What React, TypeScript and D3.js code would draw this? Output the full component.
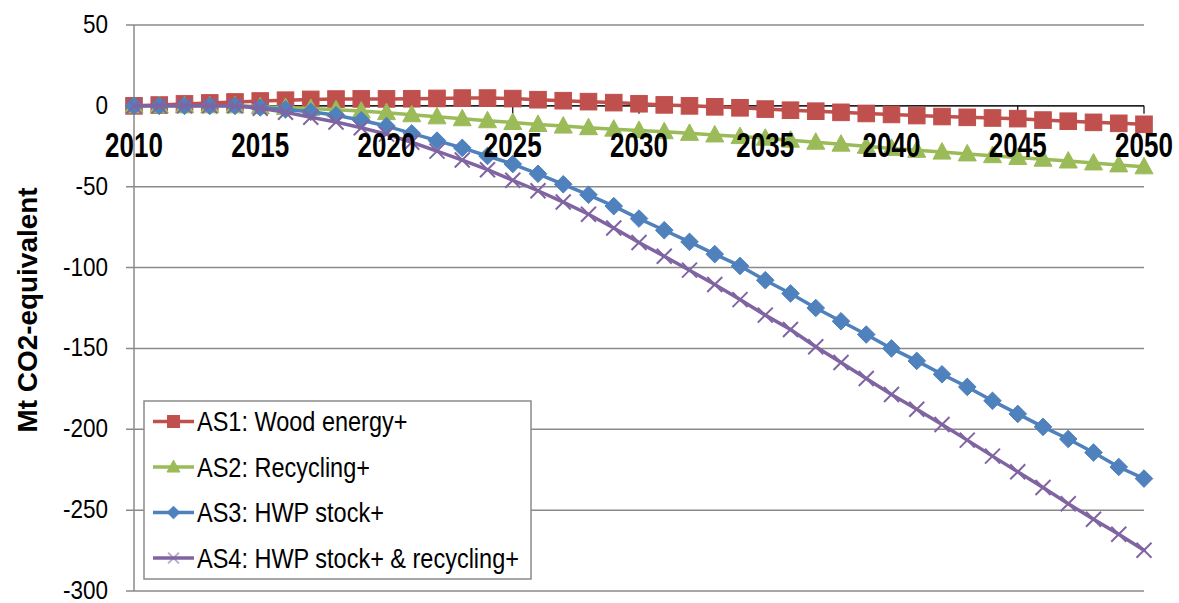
import React from "react";
import * as d3 from "d3";

const years = [
  2010, 2011, 2012, 2013, 2014, 2015, 2016, 2017, 2018, 2019,
  2020, 2021, 2022, 2023, 2024, 2025, 2026, 2027, 2028, 2029,
  2030, 2031, 2032, 2033, 2034, 2035, 2036, 2037, 2038, 2039,
  2040, 2041, 2042, 2043, 2044, 2045, 2046, 2047, 2048, 2049,
  2050,
];

const as1 = [
  0, 0.5, 1.2, 1.8, 2.4, 3.0, 3.5, 4.0, 4.2, 4.3,
  4.3, 4.4, 4.6, 4.8, 4.8, 4.5, 3.8, 3.2, 2.6, 2.0,
  1.3, 0.6, 0.0, -0.6, -1.2, -2.0, -2.7, -3.3, -4.0, -4.7,
  -5.3, -6.0, -6.6, -7.1, -7.5, -7.9, -8.8, -9.5, -10.2, -10.8,
  -11.4,
];

const as2 = [
  0, 0, 0, 0, 0, -0.5, -1.0, -1.6, -2.4, -3.2,
  -4.2, -5.5, -6.8, -8.0, -9.2, -10.3, -11.5, -12.5, -13.5, -14.4,
  -15.2, -16.0, -17.0, -18.0, -19.0, -20.0, -21.2, -22.5, -23.7, -25.0,
  -26.3, -27.5, -28.6, -29.7, -30.8, -31.9, -33.0, -34.1, -35.3, -36.5,
  -37.7,
];

const as3 = [
  0, 0, 0, 0, 0, -1.0, -2.2, -3.7, -5.8, -8.9,
  -12.5, -17, -21.5, -26, -31, -36, -42, -48.5, -55, -62,
  -69.7, -76.9, -84.1, -91.7, -99, -107.8, -116, -125, -133.2, -141.4,
  -150, -157.7, -166, -173.8, -182.4, -190.5, -198.5, -206, -214.4, -223.3,
  -230.5,
];

const as4 = [
  0, 0, 0, 0, 0, -1.5, -4, -7, -10, -13.5,
  -17.5, -22.5, -28, -33.5, -39.5, -46, -52.5, -59.5, -67, -75.5,
  -84.5, -93, -101.6, -110.5, -119.8, -129.4, -138.3, -149, -158.7, -168.6,
  -178.5, -187.6, -197, -206.7, -216.6, -226.3, -236, -246, -255.6, -264.9,
  -274.8,
];

const seriesNames = [
  "AS1: Wood energy+",
  "AS2: Recycling+",
  "AS3: HWP stock+",
  "AS4: HWP stock+ & recycling+",
];
const seriesColors = ["#C0504D", "#9BBB59", "#4F81BD", "#8064A2"];
const seriesMarkers = ["square", "triangle", "diamond", "x"];
const seriesValues = [as1, as2, as3, as4];

const xTickYears = [2010, 2015, 2020, 2025, 2030, 2035, 2040, 2045, 2050];
const yTicks = [50, 0, -50, -100, -150, -200, -250, -300];

const FONT = "'Liberation Sans', Arial, Helvetica, sans-serif";

function Marker({ type, x, y, color, s = 1 }: { type: string; x: number; y: number; color: string; s?: number }) {
  if (type === "square") {
    const h = 8.3 * s;
    return <rect x={x - h} y={y - h} width={2 * h} height={2 * h} fill={color} stroke={color} strokeWidth={1} />;
  }
  if (type === "triangle") {
    const w = 9 * s;
    const p = `${x},${y - 9.5 * s} ${x + w},${y + 7 * s} ${x - w},${y + 7 * s}`;
    return <polygon points={p} fill={color} stroke={color} strokeWidth={1} />;
  }
  if (type === "diamond") {
    const h = 8.8 * s;
    const p = `${x},${y - h} ${x + h},${y} ${x},${y + h} ${x - h},${y}`;
    return <polygon points={p} fill={color} stroke={color} strokeWidth={1} />;
  }
  const h = 7.5 * s;
  return (
    <g stroke={color} strokeWidth={2} opacity={s < 1 ? 0.55 : 1}>
      <line x1={x - h} y1={y - h} x2={x + h} y2={y + h} />
      <line x1={x - h} y1={y + h} x2={x + h} y2={y - h} />
    </g>
  );
}

export default function App() {
  const W = 1179;
  const H = 603;
  const x = d3.scaleLinear().domain([2010, 2050]).range([134, 1144]);
  const y = d3.scaleLinear().domain([-300, 50]).range([591, 25]);
  const line = d3
    .line<number>()
    .x((_, i) => x(years[i]))
    .y((d) => y(d));

  const y0 = y(0);

  return (
    <svg
      width={W}
      height={H}
      style={{ position: "absolute", left: 0, top: 0, background: "#fff" }}
      fontFamily={FONT}
    >
      <rect x={0} y={0} width={W} height={H} fill="#fff" />
      {/* gridlines */}
      {yTicks.map((t) => (
        <line
          key={"g" + t}
          x1={126}
          x2={x(2050)}
          y1={y(t)}
          y2={y(t)}
          stroke="#8a8a8a"
          strokeWidth={1.5}
        />
      ))}
      {/* vertical axis */}
      <line x1={x(2010)} x2={x(2010)} y1={y(50)} y2={y(-300)} stroke="#8a8a8a" strokeWidth={1.5} />
      {/* category axis at zero */}
      <line x1={x(2010)} x2={x(2050)} y1={y0} y2={y0} stroke="#000" strokeWidth={1.3} />
      {xTickYears.slice(1).map((yr) => (
        <line key={"t" + yr} x1={x(yr)} x2={x(yr)} y1={y0} y2={y0 + 8} stroke="#000" strokeWidth={1.2} />
      ))}

      {/* y tick labels */}
      {yTicks.map((t) => (
        <g key={"yl" + t} transform={`translate(108,${y(t) + 8}) scale(1,1.14)`}>
          <text x={0} y={0} textAnchor="end" fontSize={22.5} fill="#000">
            {t}
          </text>
        </g>
      ))}

      {/* y axis title */}
      <text
        transform={`translate(37,310) rotate(-90)`}
        textAnchor="middle"
        fontSize={27}
        fontWeight="bold"
        textLength={245}
        lengthAdjust="spacingAndGlyphs"
        fill="#000"
      >
        Mt CO2-equivalent
      </text>

      {/* series */}
      {seriesValues.map((vals, si) => (
        <g key={"s" + si}>
          <path
            d={line(vals) || ""}
            fill="none"
            stroke={seriesColors[si]}
            strokeWidth={3.5}
            strokeLinejoin="round"
            strokeLinecap="round"
          />
          {vals.map((v, i) => (
            <Marker key={i} type={seriesMarkers[si]} x={x(years[i])} y={y(v)} color={seriesColors[si]} />
          ))}
        </g>
      ))}

      {/* x tick labels (drawn over the lines as in the reference) */}
      {xTickYears.map((yr) => (
        <g key={"xl" + yr} transform={`translate(${x(yr)},157) scale(1,1.34)`}>
          <text x={0} y={0} textAnchor="middle" fontSize={26} fontWeight="bold" fill="#000">
            {yr}
          </text>
        </g>
      ))}

      {/* legend */}
      <rect x={144} y={401} width={387} height={178} fill="#fff" stroke="#8a8a8a" strokeWidth={1.5} />
      {seriesNames.map((name, si) => {
        const cy = 421.5 + si * 45.5;
        return (
          <g key={"lg" + si}>
            <line x1={153} x2={194} y1={cy} y2={cy} stroke={seriesColors[si]} strokeWidth={3.5} />
            <Marker type={seriesMarkers[si]} x={173.5} y={cy} color={seriesColors[si]} s={0.72} />
            <g transform={`translate(197,${cy + 9.5}) scale(1,1.2)`}>
              <text x={0} y={0} fontSize={23.5} fill="#000">
                {name}
              </text>
            </g>
          </g>
        );
      })}
    </svg>
  );
}
